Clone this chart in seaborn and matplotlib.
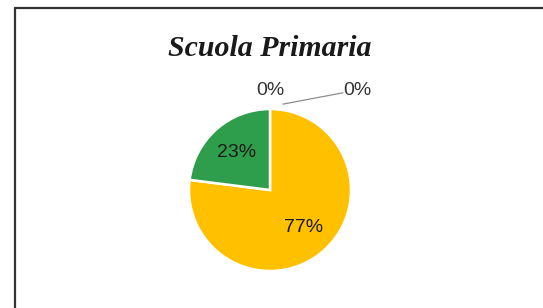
import matplotlib
matplotlib.use("Agg")
import matplotlib.pyplot as plt
import seaborn as sns
from matplotlib.lines import Line2D

# data
categories = ["Cat. A", "Cat. B", "Cat. C", "Cat. D"]
values = [0, 0, 77, 23]
colors = ["#4472C4", "#ED7D31", "#FFC000", "#2E9E4C"]
title = "Scuola Primaria"

sns.set_theme(style="white")
plt.rcParams["font.family"] = ["Liberation Sans", "DejaVu Sans"]

W, H = 543, 308
fig = plt.figure(figsize=(W / 100, H / 100), dpi=100)
fig.patch.set_facecolor("white")

# pie placement (pixels)
cx, cy, r = 270, 190, 81
ax = fig.add_axes([(cx - r) / W, (H - cy - r) / H, 2 * r / W, 2 * r / H])

wedges, texts, autotexts = ax.pie(
    values, colors=colors, startangle=90, counterclock=False, radius=1,
    autopct=lambda p: f"{p:.0f}%", pctdistance=0.62,
    wedgeprops=dict(edgecolor="white", linewidth=1.8),
    textprops=dict(fontsize=14, color="#1a1a1a"),
)
ax.set_xlim(-1, 1)
ax.set_ylim(-1, 1)
ax.set_aspect("equal")
ax.axis("off")

# zero slices: move labels above the pie
autotexts[0].set_position((0.0, 1.23))
autotexts[1].set_position((1.08, 1.23))
for t in autotexts[:2]:
    t.set_color("#333333")
    t.set_clip_on(False)
ax.add_line(Line2D([0.16, 0.9], [1.06, 1.2], color="#8c8c8c", lw=0.9, clip_on=False))

fig.text(cx / W, 1 - 49 / H, title, ha="center", va="center",
         family="Liberation Serif", style="italic", weight="bold", fontsize=21.5,
         color="#1a1a1a")

# chart frame (left and top visible)
fig.add_artist(Line2D([14.5 / W, 14.5 / W], [0, 1 - 8 / H], color="#333333", lw=1.6))
fig.add_artist(Line2D([14.5 / W, 1], [1 - 8 / H, 1 - 8 / H], color="#333333", lw=1.6))

fig.savefig("out.png", dpi=100, facecolor="white")
